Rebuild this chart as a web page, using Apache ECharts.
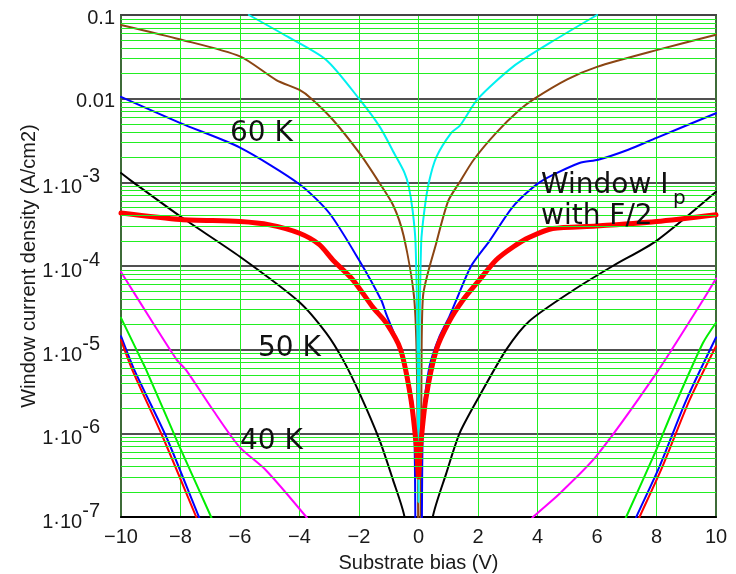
<!DOCTYPE html>
<html>
<head>
<meta charset="utf-8">
<script src="https://cdn.jsdelivr.net/npm/echarts@6/dist/echarts.min.js"></script>
<style>
  html, body { margin: 0; padding: 0; background: #fff; }
  #chart { width: 736px; height: 574px; }
</style>
</head>
<body>
<div id="chart"></div>
<script>
// Window current density (A/cm2) against substrate bias (V), one [V, J] list per curve.
const cyanCurve = [
  [-5.7, 0.1], [-4.4, 0.055], [-3.1, 0.029], [-2.0, 0.01], [-1.3, 4.6e-3], [-0.81, 2.2e-3],
  [-0.47, 1.3e-3], [-0.33, 9e-4], [-0.2, 4.7e-4], [-0.1, 1.9e-4], [-0.03, 1e-5], [0, 1.5e-7],
  [0.03, 1e-5], [0.09, 1.9e-4], [0.2, 4.7e-4], [0.35, 1e-3], [0.6, 2e-3], [1.1, 3.9e-3],
  [1.4, 4.8e-3], [2.0, 0.01], [3.17, 0.024], [4.4, 0.046], [6.0, 0.1]
];
const brownCurve = [
  [-10, 0.076], [-8, 0.051], [-6, 0.032], [-4.78, 0.0167], [-4, 0.0127], [-3.6, 0.01],
  [-2.88, 5.6e-3], [-1.97, 2.2e-3], [-1.38, 1.07e-3], [-0.86, 5.4e-4], [-0.5, 2.3e-4],
  [-0.15, 4.3e-5], [-0.05, 5e-6], [0.03, 1e-9], [0.1, 5e-6], [0.15, 4.3e-5], [0.6, 1.9e-4],
  [1.0, 6e-4], [1.38, 1e-3], [1.85, 1.85e-3], [2.61, 3.9e-3], [3.39, 7.3e-3], [3.9, 0.01],
  [5, 0.017], [6, 0.024], [8, 0.038], [10, 0.058]
];
const blue60K = [
  [-10, 0.0105], [-8, 5.1e-3], [-6, 2.6e-3], [-4, 9.5e-4], [-3, 4.3e-4], [-2, 1.18e-4],
  [-1.25, 3.9e-5], [-1.09, 2.7e-5], [-0.47, 7.2e-6], [-0.15, 1.5e-6], [-0.07, 1e-9],
  [0.07, 1e-9], [0.15, 1.5e-6], [0.37, 6.3e-6], [0.71, 1.45e-5], [1.04, 2.5e-5],
  [1.27, 3.9e-5], [1.77, 1e-4], [2.39, 2.0e-4], [3.17, 5.1e-4], [4.07, 1e-3],
  [5.41, 1.7e-3], [6.04, 1.86e-3], [7.05, 2.45e-3], [8, 3.4e-3], [10, 6.7e-3]
];
const black50K = [
  [-10, 1.29e-3], [-9.7, 1.07e-3], [-8, 3.9e-4], [-6, 1.29e-4], [-4, 3.7e-5], [-3.1, 1.58e-5],
  [-2.54, 7.6e-6], [-1.98, 3.0e-6], [-1.31, 8.3e-7], [-0.86, 2.8e-7], [-0.47, 1e-7],
  [-0.3, 2e-8], [0.3, 2e-8], [0.48, 1e-7], [0.93, 3.3e-7], [1.38, 1e-6], [2.05, 2.8e-6],
  [2.95, 1e-5], [3.73, 2.2e-5], [5.19, 5.1e-5], [6.53, 1e-4], [8, 2e-4], [10, 7.7e-4]
];
const windowIpHalfF = [
  [-10, 4.3e-4], [-8, 3.6e-4], [-6, 3.4e-4], [-5, 3.1e-4], [-4, 2.46e-4], [-3.33, 1.8e-4],
  [-2.88, 1.18e-4], [-2.2, 6.8e-5], [-1.53, 3.2e-5], [-1.09, 2.1e-5], [-0.6, 1e-5],
  [-0.25, 2.5e-6], [-0.06, 6.3e-7], [0, 3e-7], [0.06, 6.3e-7], [0.24, 2.5e-6], [0.6, 1e-5],
  [1.04, 2.2e-5], [1.49, 3.9e-5], [2.0, 6.5e-5], [2.61, 1.18e-4], [3.19, 1.7e-4],
  [3.73, 2.2e-4], [4.51, 2.8e-4], [5.97, 3.0e-4], [8, 3.4e-4], [10, 4.1e-4]
];
const magenta40K = [
  [-10, 8.5e-5], [-8.93, 2.1e-5], [-8.13, 7.6e-6], [-7.81, 5.7e-6], [-6.91, 1.9e-6],
  [-6.02, 6.9e-7], [-5.12, 3.6e-7], [-3.77, 1e-7], [-3.3, 6e-8],
  [3.6, 8e-8], [3.85, 1e-7], [4.74, 1.9e-7], [5.97, 5.3e-7], [7.99, 5.2e-6], [9.56, 3.9e-5],
  [10, 7.1e-5]
];
const greenCurve = [
  [-10, 2.4e-5], [-9.32, 7.6e-6], [-9.15, 5.7e-6], [-8.03, 6.9e-7], [-6.97, 1e-7], [-6.7, 6e-8],
  [6.7, 6e-8], [6.98, 1e-7], [7.99, 6.3e-7], [8.55, 1.9e-6], [9.56, 1.2e-5], [10, 2.1e-5]
];
const blueLowCurve = [
  [-10, 1.45e-5], [-9.55, 5.7e-6], [-8.48, 9.1e-7], [-7.38, 1e-7], [-7.1, 6e-8],
  [7.05, 6e-8], [7.32, 1e-7], [8.1, 4e-7], [9.0, 2.5e-6], [10, 1.4e-5]
];
const redLowCurve = [
  [-10, 1.3e-5], [-9.6, 5.5e-6], [-8.6, 9.1e-7], [-7.47, 1e-7], [-7.2, 6e-8],
  [7.15, 6e-8], [7.43, 1e-7], [8.2, 4e-7], [9.11, 2.5e-6], [10, 1.1e-5]
];

// Axis ticks
const yTickValues = [1e-7, 1e-6, 1e-5, 1e-4, 1e-3, 0.01, 0.1];
const yTickMantissa = ['1·10', '1·10', '1·10', '1·10', '1·10', '0.01', '0.1'];
const yTickExponent = ['-7', '-6', '-5', '-4', '-3', '', ''];

// Curve annotations
const tempLabels = ['60 K', '50 K', '40 K'];
const ipLabelLine1 = 'Window I';
const ipLabelSub = 'p';
const ipLabelLine2 = 'with F/2';

const FONT = '"Liberation Sans", Arial, sans-serif';
const NOTE_FONT = '"DejaVu Sans", sans-serif';

// Minor grid lines at 2..9 within each decade of the log axis
const minorGridValues = [];
for (let e = -7; e <= -2; e++) {
  for (let m = 2; m <= 9; m++) minorGridValues.push(m * Math.pow(10, e));
}

function yLabel(val) {
  const i = yTickValues.findIndex(t => Math.abs(Math.log10(t) - Math.log10(val)) < 1e-6);
  if (i < 0) return '';
  if (!yTickExponent[i]) return '{d|' + yTickMantissa[i] + '}';
  return '{b|' + yTickMantissa[i] + '}{s|' + yTickExponent[i] + '}';
}

function curve(data, color, width) {
  return {
    type: 'line', data: data, showSymbol: false, symbol: 'none', clip: true,
    smooth: 0.25,
    lineStyle: { color: color, width: width, join: 'round', cap: 'round' }, itemStyle: { color: color },
    z: 3, silent: true
  };
}

const chart = echarts.init(document.getElementById('chart'), null, { renderer: 'canvas' });

chart.setOption({
  animation: false,
  backgroundColor: '#ffffff',
  grid: {
    left: 121, right: 20, top: 15, bottom: 57, outerBoundsMode: 'none', containLabel: false,
    show: true, borderColor: '#3e6b38', borderWidth: 2, backgroundColor: 'transparent'
  },
  xAxis: [{
    type: 'value', min: -10, max: 10, interval: 2, position: 'bottom',
    axisLine: { show: true, onZero: false, lineStyle: { color: '#000', width: 2 } },
    axisTick: { show: false },
    axisLabel: { fontSize: 20, fontFamily: FONT, color: '#1a1a1a', margin: 10,
      formatter: v => String(v).replace('-', '−') },
    splitLine: { show: true, lineStyle: { color: '#22ee22', width: 1 } },
    name: 'Substrate bias (V)', nameLocation: 'middle', nameGap: 36, nameMoveOverlap: false,
    nameTextStyle: { fontSize: 20, fontFamily: FONT, color: '#1a1a1a' }
  }, {
    type: 'value', min: -10, max: 10, interval: 2, position: 'top',
    axisLine: { show: true, onZero: false, lineStyle: { color: '#444', width: 2 } },
    axisTick: { show: false }, axisLabel: { show: false }, splitLine: { show: false }
  }],
  yAxis: [{
    type: 'log', logBase: 10, min: 1e-7, max: 0.1, interval: 1, splitNumber: 6,
    axisLine: { show: true, onZero: false, lineStyle: { color: '#3e6b38', width: 2 } },
    axisTick: { show: false },
    axisLabel: {
      margin: 6, formatter: yLabel,
      rich: {
        b: { fontSize: 20, fontFamily: FONT, color: '#1a1a1a', verticalAlign: 'bottom' },
        s: { fontSize: 20, fontFamily: FONT, color: '#1a1a1a', verticalAlign: 'top', padding: [0, 15, 11, 0] },
        d: { fontSize: 20, fontFamily: FONT, color: '#1a1a1a', padding: [6, 0, 0, 0] }
      }
    },
    splitLine: { show: true, lineStyle: { color: '#505050', width: 2 } },
    name: 'Window current density (A/cm2)', nameLocation: 'middle', nameGap: 82, nameMoveOverlap: false,
    nameTextStyle: { fontSize: 20, fontFamily: FONT, color: '#1a1a1a' }
  }, {
    type: 'log', logBase: 10, min: 1e-7, max: 0.1, position: 'right',
    axisLine: { show: true, onZero: false, lineStyle: { color: '#3e6b38', width: 2 } },
    axisTick: { show: false }, axisLabel: { show: false }, splitLine: { show: false }
  }],
  series: [
    {
      type: 'line', data: [], z: 1, silent: true,
      markLine: {
        silent: true, symbol: ['none', 'none'], animation: false, precision: 12,
        label: { show: false },
        lineStyle: { color: '#22ee22', width: 1, type: 'solid' },
        data: minorGridValues.map(v => ({ yAxis: v }))
      }
    },
    curve(brownCurve, '#8b4513', 2),
    curve(cyanCurve, '#00f0f0', 2),
    curve(blue60K, '#0000ff', 2),
    curve(black50K, '#000000', 2),
    curve(windowIpHalfF, '#ff0000', 5),
    curve(magenta40K, '#ff00ff', 2),
    curve(greenCurve, '#00ee00', 2),
    curve(blueLowCurve, '#0000ff', 2),
    curve(redLowCurve, '#ff0000', 2)
  ],
  graphic: [
    { type: 'text', x: 230, y: 134, z: 10, style: { text: tempLabels[0], font: '28px ' + NOTE_FONT, fill: '#111', verticalAlign: 'middle' } },
    { type: 'text', x: 258, y: 349, z: 10, style: { text: tempLabels[1], font: '28px ' + NOTE_FONT, fill: '#111', verticalAlign: 'middle' } },
    { type: 'text', x: 240, y: 442, z: 10, style: { text: tempLabels[2], font: '28px ' + NOTE_FONT, fill: '#111', verticalAlign: 'middle' } },
    { type: 'text', x: 541, y: 186, z: 10, style: { text: ipLabelLine1, font: '28px ' + NOTE_FONT, fill: '#111', verticalAlign: 'middle' } },
    { type: 'text', x: 673, y: 199, z: 10, style: { text: ipLabelSub, font: '20px ' + NOTE_FONT, fill: '#111', verticalAlign: 'middle' } },
    { type: 'text', x: 541, y: 217, z: 10, style: { text: ipLabelLine2, font: '28px ' + NOTE_FONT, fill: '#111', verticalAlign: 'middle' } }
  ]
});
</script>
</body>
</html>
